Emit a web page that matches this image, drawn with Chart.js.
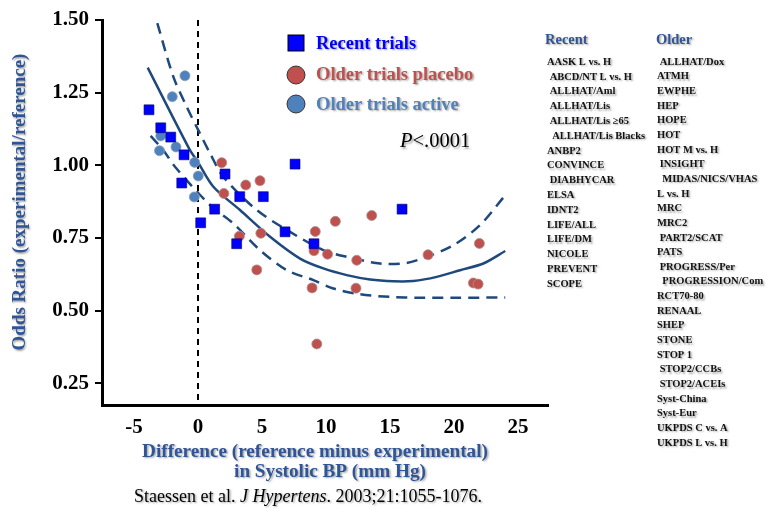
<!DOCTYPE html>
<html>
<head>
<meta charset="utf-8">
<script src="https://cdn.jsdelivr.net/npm/chart.js@4.4.1/dist/chart.umd.min.js"></script>
<style>
    html, body { margin: 0; padding: 0; background: #fff; }
</style>
</head>
<body>
<canvas id="chart" width="766" height="508"></canvas>
<script>
// Tick labels
const xTicks = [-5, 0, 5, 10, 15, 20, 25];
const yTicks = [0.25, 0.50, 0.75, 1.00, 1.25, 1.50];

// Recent trials (squares)
const recentX = [-3.83, -2.91, -2.13, -1.09, -1.27, 0.21, 1.30, 2.11, 3.26, 5.10, 7.58, 3.02, 6.80, 9.06, 15.94];
const recentY = [1.191, 1.129, 1.097, 1.036, 0.939, 0.802, 0.849, 0.970, 0.892, 0.892, 1.004, 0.730, 0.771, 0.730, 0.849];

// Older trials, placebo controlled
const placeboX = [1.85, 2.02, 3.73, 4.84, 3.23, 4.91, 4.59, 9.16, 9.06, 8.91, 9.28, 10.12, 10.73, 12.40, 12.34, 13.57, 17.97, 21.98, 21.51, 21.88];
const placeboY = [1.009, 0.903, 0.932, 0.947, 0.756, 0.766, 0.640, 0.772, 0.706, 0.578, 0.385, 0.694, 0.807, 0.673, 0.577, 0.827, 0.692, 0.731, 0.595, 0.591];

// Older trials, active controlled
const activeX = [-1.02, -2.01, -2.91, -1.72, -3.01, -0.26, 0.02, -0.29];
const activeY = [1.308, 1.236, 1.101, 1.063, 1.050, 1.010, 0.963, 0.891];

// Regression line and confidence band
const fitX = [-3.93, -0.63, -0.10, 1.20, 3.28, 5.63, 7.97, 9.79, 11.62, 13.44, 15.26, 16.82, 18.65, 20.47, 22.29, 24.0];
const fitY = [1.336, 1.052, 1.018, 0.926, 0.846, 0.754, 0.679, 0.645, 0.622, 0.607, 0.601, 0.602, 0.616, 0.639, 0.662, 0.705];
const upperX = [-3.18, -1.93, -0.88, 0.02, 0.94, 1.98, 4.59, 7.19, 9.79, 11.62, 14.22, 16.30, 17.87, 19.95, 22.03, 24.0];
const upperY = [1.489, 1.305, 1.201, 1.121, 1.041, 0.960, 0.846, 0.771, 0.708, 0.685, 0.662, 0.664, 0.685, 0.725, 0.794, 0.897];
const lowerX = [-3.70, -2.71, -1.80, 0.94, 2.76, 4.84, 6.93, 9.01, 10.57, 12.66, 15.0, 17.34, 19.95, 24.0];
const lowerY = [1.101, 1.052, 0.995, 0.863, 0.800, 0.708, 0.639, 0.605, 0.576, 0.556, 0.547, 0.544, 0.544, 0.545];

// Trial names listed on the right
const recentNames = ['AASK L vs. H', ' ABCD/NT L vs. H', ' ALLHAT/Aml', ' ALLHAT/Lis', ' ALLHAT/Lis \u226565', '  ALLHAT/Lis Blacks',
    'ANBP2', 'CONVINCE', ' DIABHYCAR', 'ELSA', 'IDNT2', 'LIFE/ALL', 'LIFE/DM', 'NICOLE', 'PREVENT', 'SCOPE'];
const olderNames = [' ALLHAT/Dox', 'ATMH', 'EWPHE', 'HEP', 'HOPE', 'HOT', 'HOT M vs. H', ' INSIGHT', '  MIDAS/NICS/VHAS',
    'L vs. H', 'MRC', 'MRC2', ' PART2/SCAT', 'PATS', ' PROGRESS/Per', '  PROGRESSION/Com', 'RCT70-80', 'RENAAL',
    'SHEP', 'STONE', 'STOP 1', ' STOP2/CCBs', ' STOP2/ACEIs', 'Syst-China', 'Syst-Eur', 'UKPDS C vs. A', 'UKPDS L vs. H'];

const SERIF = '"Liberation Serif", "Times New Roman", serif';
const STEEL = '#2f5597';

const toPoints = (xs, ys) => xs.map((x, i) => ({ x: x, y: ys[i] }));

function shadowOn(ctx) {
    ctx.shadowColor = 'rgba(0,0,0,0.35)';
    ctx.shadowOffsetX = 1.5;
    ctx.shadowOffsetY = 1.5;
    ctx.shadowBlur = 2;
}

const annotations = {
    id: 'annotations',
    afterDraw(chart) {
        const ctx = chart.ctx;
        ctx.save();
        ctx.textBaseline = 'middle';

        // legend markers
        ctx.fillStyle = '#0000ff';
        ctx.strokeStyle = '#000';
        ctx.lineWidth = 1;
        ctx.fillRect(288, 35, 16, 16);
        ctx.strokeRect(288, 35, 16, 16);
        [['#c0504d', 75], ['#4f81bd', 104]].forEach(([c, y]) => {
            ctx.beginPath();
            ctx.arc(296, y, 9, 0, Math.PI * 2);
            ctx.fillStyle = c;
            ctx.fill();
            ctx.strokeStyle = '#333';
            ctx.stroke();
        });

        shadowOn(ctx);
        ctx.textAlign = 'left';
        ctx.font = 'bold 18.5px ' + SERIF;
        ctx.fillStyle = '#0000ff';
        ctx.fillText('Recent trials', 316, 44);
        ctx.fillStyle = '#c0504d';
        ctx.fillText('Older trials placebo', 316, 75);
        ctx.fillStyle = '#4f81bd';
        ctx.fillText('Older trials active', 316, 105);

        // P value
        ctx.fillStyle = '#000';
        ctx.font = 'italic 20.5px ' + SERIF;
        ctx.fillText('P', 400, 142);
        const pw = ctx.measureText('P').width;
        ctx.font = '20.5px ' + SERIF;
        ctx.fillText('<.0001', 400 + pw, 142);

        // axis titles
        ctx.fillStyle = STEEL;
        ctx.font = 'bold 19.2px ' + SERIF;
        ctx.textAlign = 'center';
        ctx.fillText('Difference (reference minus experimental)', 315, 452);
        ctx.fillText('in Systolic BP (mm Hg)', 330, 472);
        ctx.save();
        ctx.translate(20, 202);
        ctx.rotate(-Math.PI / 2);
        ctx.font = 'bold 19px ' + SERIF;
        ctx.fillText('Odds Ratio (experimental/reference)', 0, 0);
        ctx.restore();

        // citation
        ctx.fillStyle = '#000';
        ctx.textAlign = 'left';
        const parts = [['Staessen et al. ', ''], ['J Hypertens', 'italic '], ['. 2003;21:1055-1076.', '']];
        ctx.font = '18px ' + SERIF;
        let total = 0;
        parts.forEach(([t, style]) => {
            ctx.font = style + '18px ' + SERIF;
            total += ctx.measureText(t).width;
        });
        let cx = 308 - total / 2;
        parts.forEach(([t, style]) => {
            ctx.font = style + '18px ' + SERIF;
            ctx.fillText(t, cx, 497);
            cx += ctx.measureText(t).width;
        });

        // trial name columns
        ctx.fillStyle = STEEL;
        ctx.font = 'bold 14.5px ' + SERIF;
        ctx.fillText('Recent', 545, 40);
        ctx.fillText('Older', 656, 40);
        ctx.fillStyle = '#111';
        ctx.font = 'bold 10.5px ' + SERIF;
        recentNames.forEach((n, i) => ctx.fillText(n, 547, 62 + i * 14.8));
        olderNames.forEach((n, i) => ctx.fillText(n, 657, 62 + i * 14.65));

        ctx.restore();
    }
};

const lineStyle = {
    showLine: true,
    borderColor: '#1f497d',
    borderWidth: 2.5,
    pointRadius: 0,
    tension: 0.3,
    fill: false,
    order: 1
};

new Chart(document.getElementById('chart'), {
    type: 'scatter',
    data: {
        datasets: [
            {
                label: 'Recent trials',
                data: toPoints(recentX, recentY),
                pointStyle: 'rect',
                pointRadius: 7,
                backgroundColor: '#0000ff',
                borderColor: '#00006b',
                borderWidth: 0.6,
                order: 0
            },
            {
                label: 'Older trials placebo',
                data: toPoints(placeboX, placeboY),
                pointRadius: 5,
                backgroundColor: '#c0504d',
                borderColor: '#a8908f',
                borderWidth: 0.8,
                order: 0
            },
            {
                label: 'Older trials active',
                data: toPoints(activeX, activeY),
                pointRadius: 5,
                backgroundColor: '#4f81bd',
                borderColor: '#8aa0b8',
                borderWidth: 0.8,
                order: 0
            },
            Object.assign({ label: 'Fit', data: toPoints(fitX, fitY) }, lineStyle),
            Object.assign({ label: 'Upper', data: toPoints(upperX, upperY), borderDash: [11, 7] }, lineStyle),
            Object.assign({ label: 'Lower', data: toPoints(lowerX, lowerY), borderDash: [11, 7] }, lineStyle),
            {
                label: 'Zero',
                data: [{ x: 0, y: 1.5 }, { x: 0, y: 0.175 }],
                showLine: true,
                borderColor: '#000',
                borderWidth: 2,
                borderDash: [6, 5],
                pointRadius: 0,
                order: 2
            }
        ]
    },
    options: {
        responsive: false,
        animation: false,
        layout: {
            padding: { left: 0, top: 20, right: 218, bottom: 0 }
        },
        plugins: {
            legend: { display: false },
            tooltip: { enabled: false }
        },
        scales: {
            x: {
                type: 'linear',
                min: -7.5,
                max: 27.34,
                afterBuildTicks: (scale) => {
                    scale.ticks = xTicks.map(v => ({ value: v }));
                },
                afterFit: (scale) => {
                    scale.height = 103;
                },
                ticks: {
                    color: '#000',
                    padding: 2,
                    font: { family: SERIF, size: 21, weight: 'bold' }
                },
                grid: {
                    display: false
                },
                border: {
                    display: true,
                    color: '#000',
                    width: 3
                }
            },
            y: {
                type: 'linear',
                min: 0.175,
                max: 1.5,
                afterBuildTicks: (scale) => {
                    scale.ticks = yTicks.map(v => ({ value: v }));
                },
                afterFit: (scale) => {
                    scale.width = 102;
                },
                ticks: {
                    color: '#000',
                    padding: 6,
                    callback: (value) => value.toFixed(2),
                    font: { family: SERIF, size: 21, weight: 'bold' }
                },
                grid: {
                    display: true,
                    drawOnChartArea: false,
                    drawTicks: true,
                    tickLength: 7,
                    color: '#000',
                    lineWidth: 2
                },
                border: {
                    display: true,
                    color: '#000',
                    width: 3
                }
            }
        }
    },
    plugins: [annotations]
});
</script>
</body>
</html>
